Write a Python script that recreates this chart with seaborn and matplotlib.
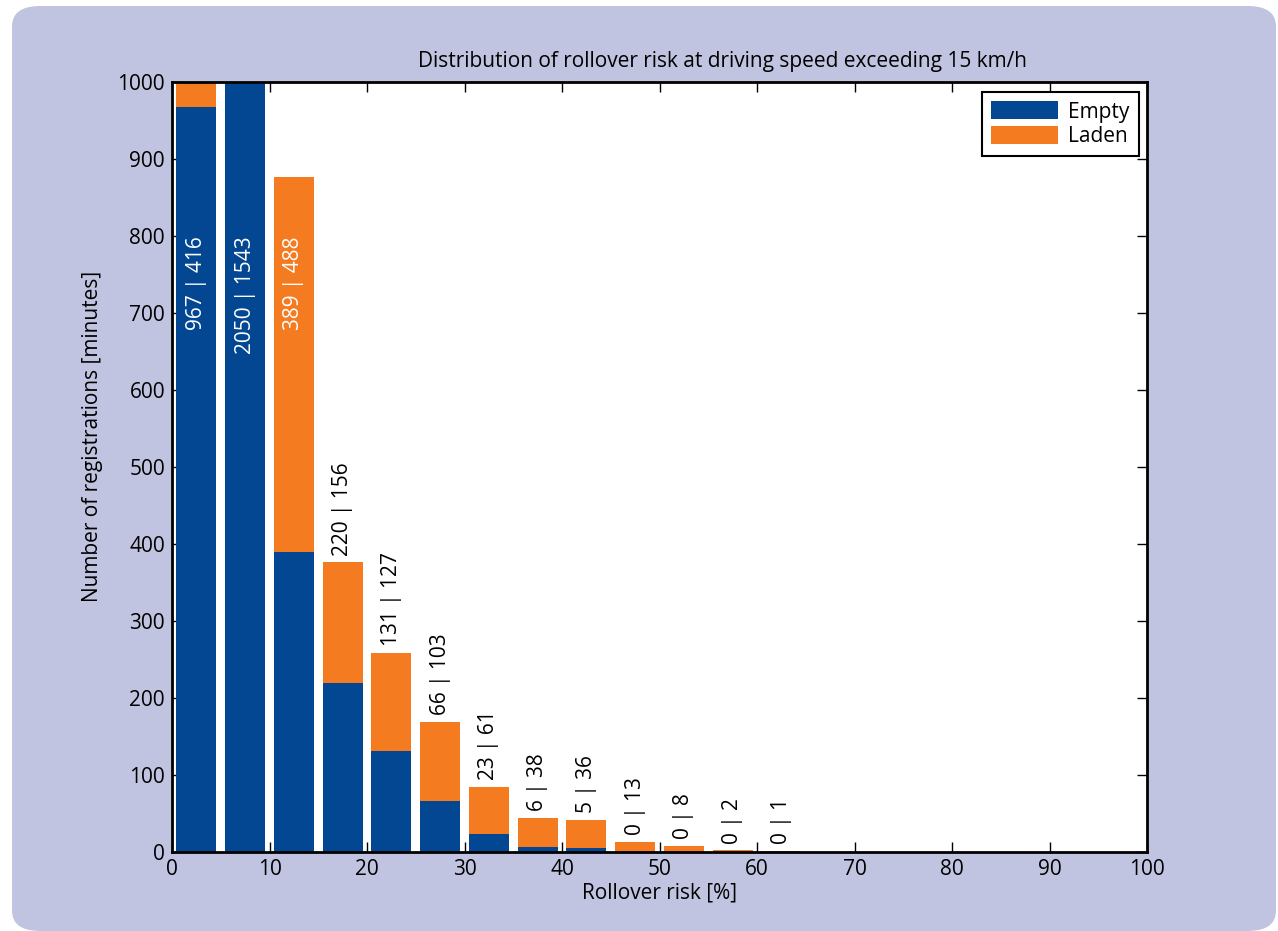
import matplotlib
matplotlib.use("Agg")
import matplotlib.pyplot as plt
from matplotlib.patches import FancyBboxPatch, Patch
import pandas as pd
import seaborn as sns

# Rollover-risk bins (lower edge, %) and minutes registered per load state
bin_start = [0, 5, 10, 15, 20, 25, 30, 35, 40, 45, 50, 55, 60]
empty = [967, 2050, 389, 220, 131, 66, 23, 6, 5, 0, 0, 0, 0]
laden = [416, 1543, 488, 156, 127, 103, 61, 38, 36, 13, 8, 2, 1]
series_names = ["Empty", "Laden"]
x_ticks = [0, 10, 20, 30, 40, 50, 60, 70, 80, 90, 100]
y_ticks = [0, 100, 200, 300, 400, 500, 600, 700, 800, 900, 1000]

BLUE = "#034793"
ORANGE = "#f47b20"
PANEL = "#c1c4e0"
FS = 15

sns.set_theme(style="ticks")
plt.rcParams["font.family"] = ["Open Sans", "DejaVu Sans"]
plt.rcParams["text.color"] = "black"
plt.rcParams["axes.labelcolor"] = "black"

df = pd.DataFrame({
    "risk": [b + 2.5 for b in bin_start] * 2,
    "minutes": empty + laden,
    "state": ["Empty"] * len(bin_start) + ["Laden"] * len(bin_start),
})

fig = plt.figure(figsize=(12.78, 9.31), dpi=100)
fig.patch.set_facecolor("white")
panel = FancyBboxPatch((12 / 1278, 0.0), (1278 - 14) / 1278, (931 - 6) / 931,
                       boxstyle="round,pad=0,rounding_size=0.022",
                       transform=fig.transFigure, facecolor=PANEL,
                       edgecolor="none", zorder=-10)
fig.patches.append(panel)

ax = fig.add_axes([172 / 1278, 1 - 852 / 931, (1147 - 172) / 1278, (852 - 82) / 931])
ax.set_zorder(5)
ax.set_facecolor("white")

sns.histplot(data=df, x="risk", weights="minutes", hue="state",
             hue_order=["Laden", "Empty"], multiple="stack",
             binwidth=5, binrange=(0, 65), shrink=0.82, element="bars",
             palette={"Empty": BLUE, "Laden": ORANGE}, alpha=1,
             edgecolor="none", linewidth=0, legend=False, ax=ax)

ax.set_xlim(0, 100)
ax.set_ylim(0, 1000)
ax.set_xticks(x_ticks)
ax.set_yticks(y_ticks)
ax.tick_params(direction="in", length=7, width=1, top=True, right=True,
               labelsize=FS, colors="black", pad=5)
for s in ax.spines.values():
    s.set_visible(True)
    s.set_linewidth(2)
    s.set_color("black")

# Value labels: "empty | laden"
for b, e, l in zip(bin_start, empty, laden):
    total = e + l
    xc = b + 2.5
    text = f"{e} | {l}"
    if total > 800:
        ax.text(xc, 800, text, rotation=90, ha="center", va="top",
                color="white", fontsize=FS, zorder=5)
    else:
        ax.annotate(text, (xc, total), xytext=(0, 5), textcoords="offset points",
                    rotation=90, ha="center", va="bottom", color="black",
                    fontsize=FS, zorder=5)

ax.set_xlabel("Rollover risk [%]", fontsize=FS, labelpad=2, color="black")
ax.set_ylabel("Number of registrations [minutes]", fontsize=FS, color="black")
ax.yaxis.set_label_coords(-0.071, 0.54)
ax.set_title("Distribution of rollover risk at driving speed exceeding 15 km/h",
             fontsize=FS, x=0.565, pad=11, color="black")

handles = [Patch(facecolor=BLUE, edgecolor="none"),
           Patch(facecolor=ORANGE, edgecolor="none")]
leg = ax.legend(handles, series_names, loc="upper right", fontsize=FS,
                frameon=True, fancybox=False, framealpha=1, edgecolor="black",
                handlelength=3.2, handleheight=0.95, borderpad=0.45,
                labelspacing=0.15, handletextpad=0.5, borderaxespad=0,
                bbox_to_anchor=(0.992, 0.987))
leg.get_frame().set_linewidth(1.5)
for t in leg.get_texts():
    t.set_color("black")

fig.savefig("out.png", dpi=100, facecolor=fig.get_facecolor())
